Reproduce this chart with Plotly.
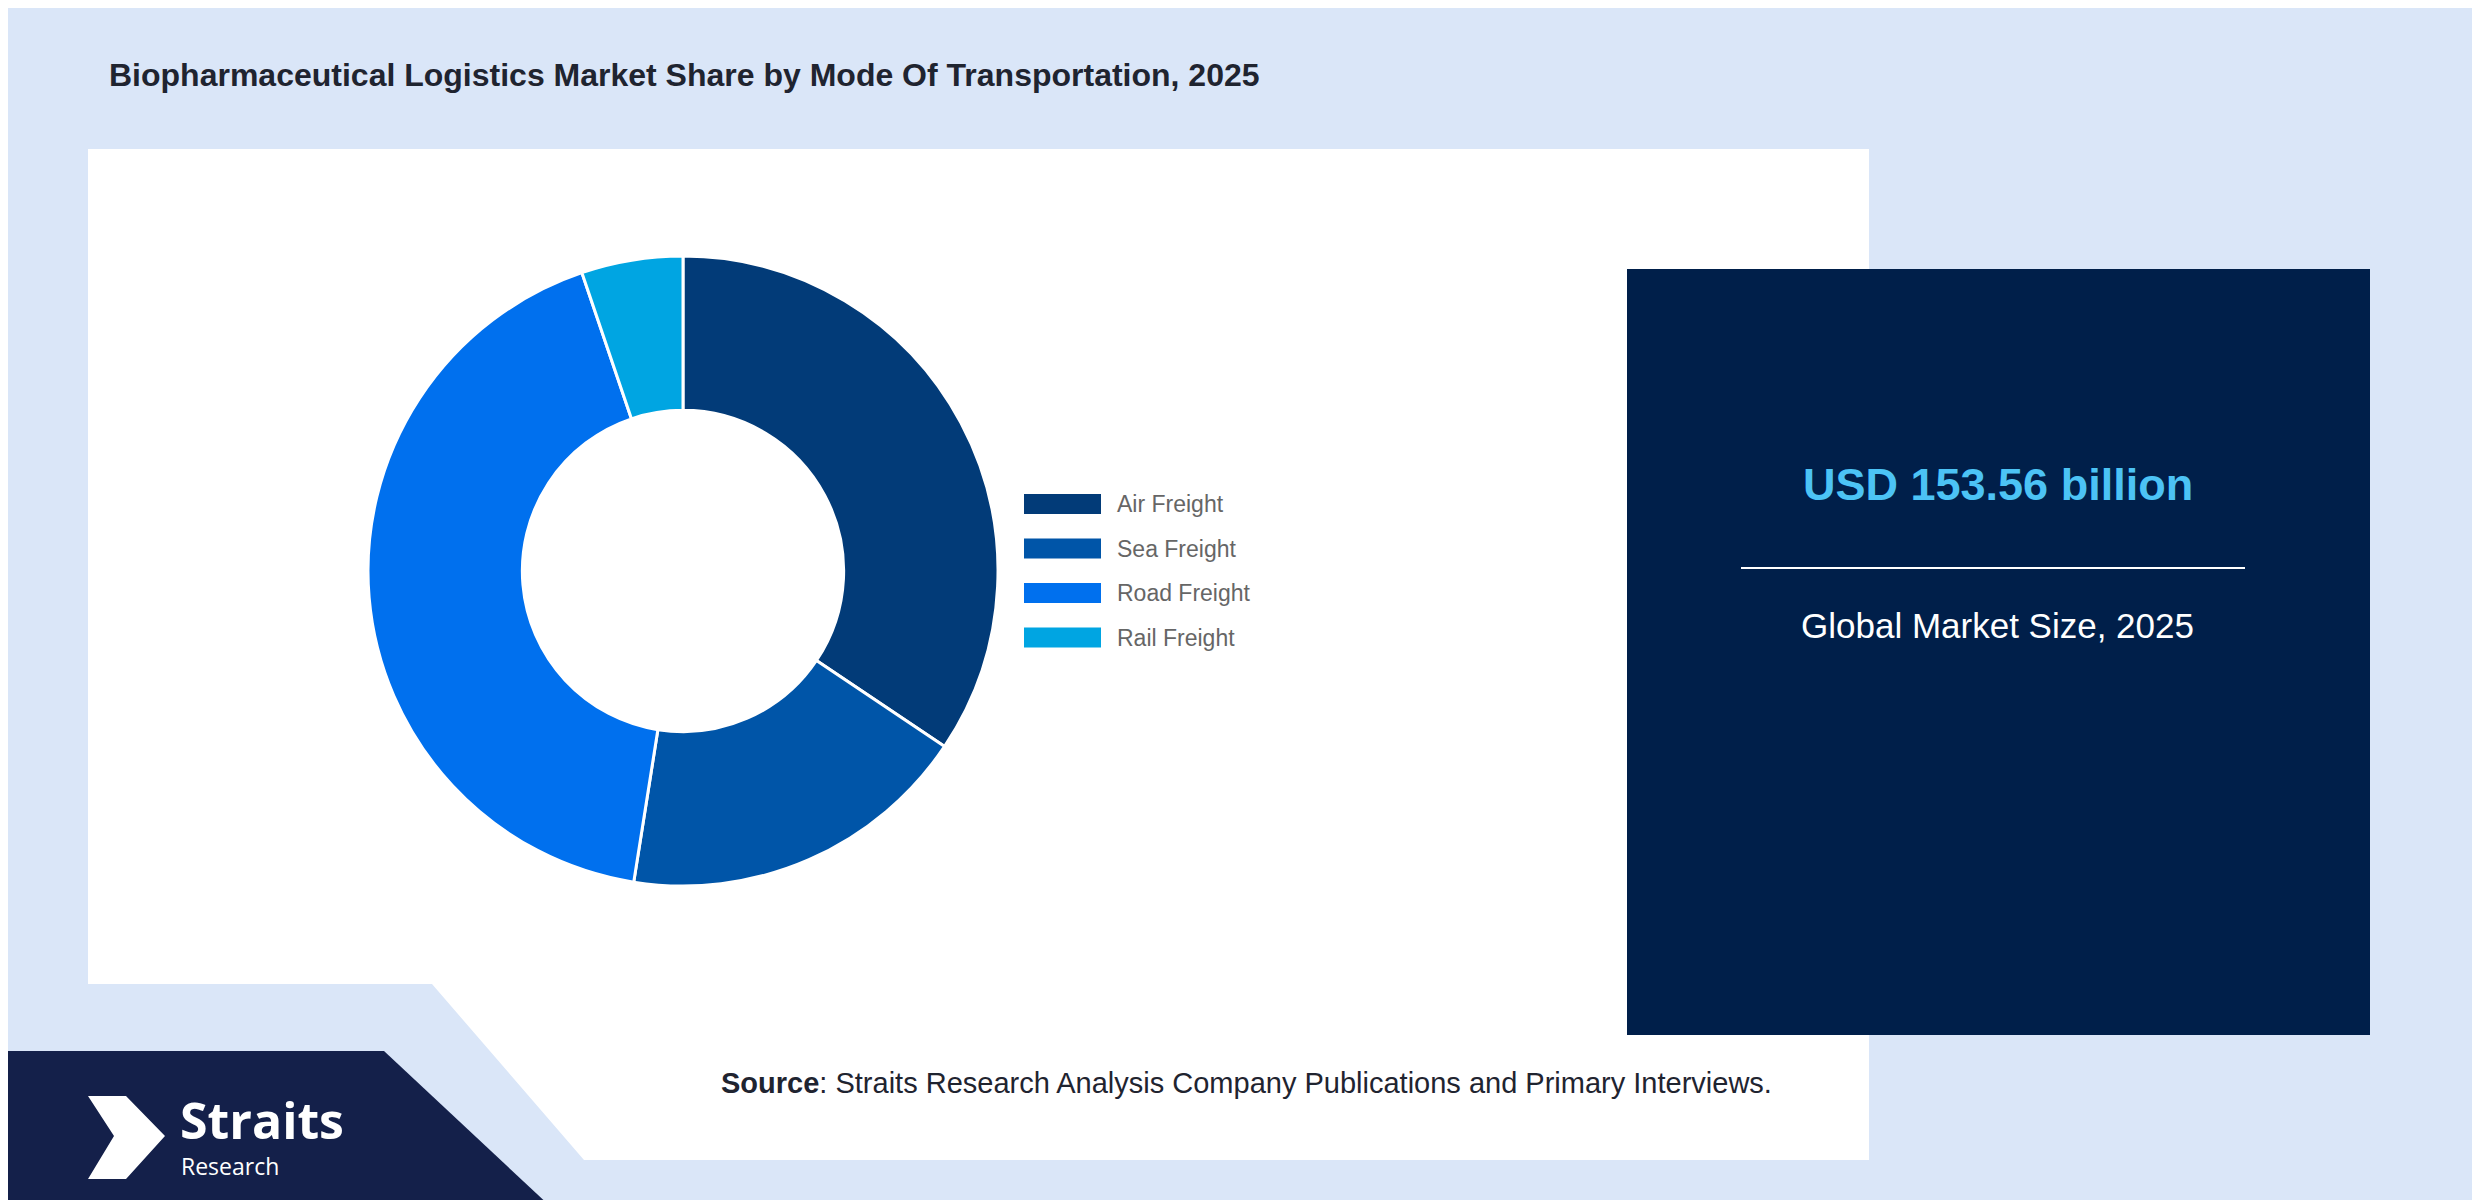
import plotly.graph_objects as go

W, H = 2480, 1200
categories = ["Air Freight", "Sea Freight", "Road Freight", "Rail Freight"]
shares = [34.4, 18.1, 42.3, 5.2]
colors = ["#023b78", "#0055a8", "#0070ee", "#00a5e2"]

def px(x): return x / W
def py(y): return 1 - y / H
def path(pts):
    return "M " + " L ".join(f"{px(x)},{py(y)}" for x, y in pts) + " Z"

fig = go.Figure(go.Pie(
    labels=categories, values=shares, hole=0.51, sort=False, direction="clockwise",
    rotation=0, marker=dict(colors=colors, line=dict(color="white", width=3)),
    textinfo="none", hoverinfo="label+percent", showlegend=False,
    domain=dict(x=[px(675-315), px(675+315)], y=[py(563+315), py(563-315)]),
))

shapes = [
    dict(type="rect", xref="paper", yref="paper", x0=0, x1=1, y0=0, y1=1,
         fillcolor="#dae6f8", line=dict(width=0), layer="below"),
    dict(type="path", xref="paper", yref="paper", layer="below",
         path=path([(80,141),(1861,141),(1861,1152),(576,1152),(424,976),(80,976)]),
         fillcolor="white", line=dict(width=0)),
    dict(type="path", xref="paper", yref="paper", layer="below",
         path=path([(0,1043),(376,1043),(544,1200),(0,1200)]),
         fillcolor="#14204a", line=dict(width=0)),
    dict(type="rect", xref="paper", yref="paper", layer="below",
         x0=px(1619), x1=px(2362), y0=py(1027), y1=py(261),
         fillcolor="#001f4a", line=dict(width=0)),
    dict(type="line", xref="paper", yref="paper",
         x0=px(1733), x1=px(2237), y0=py(560), y1=py(560),
         line=dict(color="white", width=2)),
    dict(type="path", xref="paper", yref="paper",
         path=path([(80,1088),(118,1088),(157,1128),(118,1171),(80,1171),(106,1128)]),
         fillcolor="white", line=dict(width=0)),
]

ann = [
    dict(text="<b>Biopharmaceutical Logistics Market Share by Mode Of Transportation, 2025</b>",
         x=px(99), y=py(67), xanchor="left", yanchor="middle",
         font=dict(size=32, color="#1f2430")),
    dict(text="<b>USD 153.56 billion</b>", x=px(1990), y=py(477), xanchor="center", yanchor="middle",
         font=dict(size=45, color="#4cc3f5")),
    dict(text="Global Market Size, 2025", x=px(1990), y=py(617), xanchor="center", yanchor="middle",
         font=dict(size=35, color="white")),
    dict(text="<b>Source</b>: Straits Research Analysis Company Publications and Primary Interviews.",
         x=px(1238), y=py(1075), xanchor="center", yanchor="middle",
         font=dict(size=29, color="#1f2430")),
    dict(text="<b>Straits</b>", x=px(170), y=py(1112), xanchor="left", yanchor="middle",
         font=dict(size=50, color="white", family="Open Sans")),
    dict(text="Research", x=px(171), y=py(1158), xanchor="left", yanchor="middle",
         font=dict(size=23, color="white", family="Open Sans")),
]

# manual legend
for i, (c, col) in enumerate(zip(categories, colors)):
    yc = 496 + 44.5 * i
    shapes.append(dict(type="rect", xref="paper", yref="paper",
                       x0=px(1016), x1=px(1093), y0=py(yc + 10), y1=py(yc - 10),
                       fillcolor=col, line=dict(width=0)))
    ann.append(dict(text=c, x=px(1107), y=py(yc), xanchor="left", yanchor="middle",
                    font=dict(size=23, color="#666666")))

for a in ann:
    a.update(xref="paper", yref="paper", showarrow=False)

fig.update_layout(
    width=W, height=H, margin=dict(l=0, r=0, t=0, b=0),
    paper_bgcolor="white", showlegend=False,
    font=dict(family="Liberation Sans, Arial, sans-serif"),
    shapes=shapes, annotations=ann,
)
fig.write_html("out.html")
